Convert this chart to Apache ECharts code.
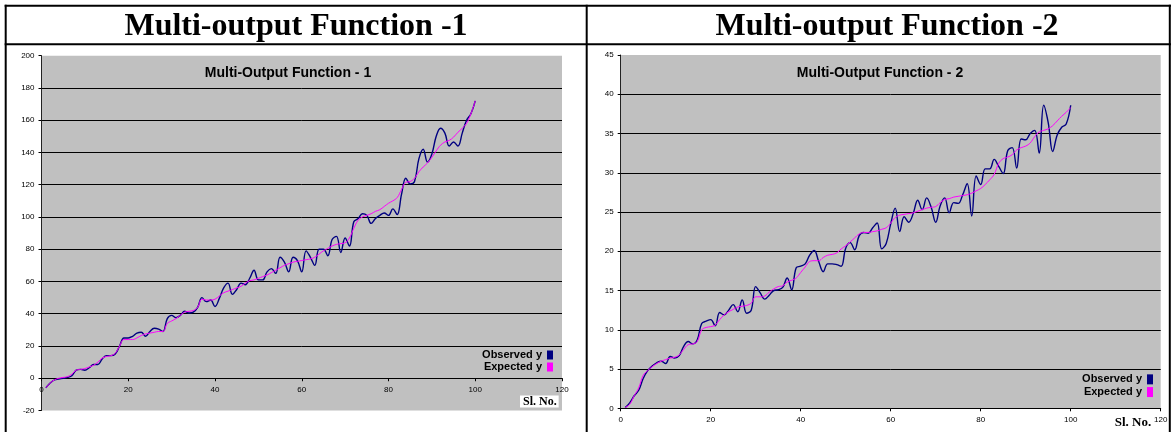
<!DOCTYPE html>
<html>
<head>
<meta charset="utf-8">
<script src="https://cdn.jsdelivr.net/npm/echarts@6/dist/echarts.min.js"></script>
<style>
  html, body { margin: 0; padding: 0; background: #ffffff; }
  #chart { width: 1172px; height: 432px; }
</style>
</head>
<body>
<div id="chart"></div>
<script>
// ---------- data ----------
const headings = ['Multi-output Function -1', 'Multi-output Function -2'];
const innerTitles = ['Multi-Output Function - 1', 'Multi-Output Function - 2'];
const seriesNames = ['Observed y', 'Expected y'];
const xAxisName = 'Sl. No.';

// Sl. No. 1..100
const slNo = [];
for (let i = 1; i <= 100; i++) slNo.push(i);

const observed1 = [
  -6, -3, -1, -0.5, 0, 0.5, 1.5, 5, 5.5, 5,
  6.5, 8.5, 8.5, 12, 14, 14, 15, 20, 25, 25,
  26, 28, 28.5, 26, 29, 31, 30.5, 29, 37, 39,
  37.5, 39, 41.5, 40.5, 41, 44, 50, 47.5, 48.5, 44.5,
  49.5, 56, 59, 52, 55, 59, 58, 62, 67, 61,
  61, 66, 68, 65, 75, 72, 66, 75, 73, 66,
  79, 75, 70, 80, 80, 76, 86, 88, 78, 87,
  82, 97, 99, 102, 101, 96, 99, 101, 102.5, 101,
  105, 101.5, 114, 124, 120.5, 122, 136, 142, 134, 139,
  150, 155, 152, 144, 146.5, 144, 152, 160, 164, 172
];
const expected1 = [
  -6, -3, -1, 0, 0.5, 1, 2.5, 5, 5.5, 6,
  7, 8, 10, 12.5, 13.5, 14, 15.5, 20, 24, 24,
  24, 25, 26.5, 27.5, 28, 28.5, 29, 29, 34, 35.5,
  37, 39, 41, 41.5, 42, 44, 49, 48.5, 48.5, 49,
  51, 53, 54, 55, 56, 57, 59, 60.5, 61, 62,
  63, 64, 65.5, 67, 68.5, 70, 71, 72, 72.5, 73,
  73.5, 74, 75, 77, 79, 80.5, 82, 83, 83.5, 84,
  87, 93, 98, 100, 101, 102, 103.5, 104.5, 106.5, 108.5,
  110, 112, 117, 121.5, 122, 124, 128, 131, 133.5, 137,
  141, 144.5, 146.5, 147.5, 149.5, 152.5, 155, 158, 164, 172
];
const observed2 = [
  0.1, 0.7, 1.6, 2.3, 3.8, 4.8, 5.4, 5.8, 6.0, 5.7,
  6.6, 6.4, 6.7, 7.9, 8.5, 8.2, 8.7, 10.8, 11.1, 11.3,
  10.5, 12.2, 11.9, 12.5, 13.2, 12.3, 13.8, 12.1, 12.5, 15.5,
  14.7, 13.9, 14.4, 15.0, 15.1, 15.4, 16.6, 15.1, 17.9, 18.1,
  18.4, 19.5, 20.1, 18.7, 17.4, 18.4, 18.4, 18.3, 18.1, 20.4,
  21.1, 20.2, 22.0, 22.4, 22.3, 23.0, 23.6, 20.3, 21.0, 23.5,
  25.5, 22.5, 24.4, 23.7, 24.8, 26.5, 25.3, 26.8, 25.6, 23.7,
  25.8, 26.8, 24.9, 26.2, 26.1, 27.2, 28.6, 24.5, 29.6, 28.5,
  30.5, 30.5, 31.7, 30.8, 29.9, 32.8, 33.2, 30.6, 34.3, 34.2,
  35.0, 35.4, 32.5, 38.6, 36.4, 32.7, 34.8, 35.8, 36.2, 38.6
];
const expected2 = [
  0.1, 0.5, 1.6, 2.6, 4.2, 4.8, 5.3, 5.7, 6.0, 6.2,
  6.4, 6.5, 6.8, 7.5, 8.1, 8.2, 8.5, 10.0, 10.3, 10.4,
  10.6, 11.3, 11.9, 12.3, 12.6, 12.9, 13.0, 13.1, 13.4, 14.2,
  14.2, 14.3, 14.8, 15.2, 15.5, 15.6, 16.1, 16.3, 16.6, 17.3,
  18.0, 18.7, 18.8, 18.8, 19.2, 19.5, 19.6, 19.8, 20.3, 20.7,
  21.2, 21.7, 22.2, 22.4, 22.4, 22.5, 22.6, 22.8, 23.0, 23.6,
  24.3, 24.6, 24.7, 24.8, 24.9, 25.1, 25.3, 25.5, 25.6, 25.7,
  26.2, 26.6, 26.7, 26.9, 27.0, 27.1, 27.2, 27.4, 27.7, 28.0,
  28.5, 29.1, 29.8, 31.2, 31.8, 32.0, 32.3, 32.9, 33.2, 33.4,
  33.8, 34.6, 35.2, 35.4, 35.6, 36.0, 36.6, 37.2, 37.7, 38.3
];

// ---------- chart ----------
const pair = (vals) => slNo.map((x, i) => [x, vals[i]]);

const OBS_COLOR = '#000080';
const EXP_COLOR = '#ff00ff';
const PLOT_BG = '#c0c0c0';
const SANS = '"Liberation Sans", Arial, sans-serif';
const SERIF = '"Liberation Serif", "Times New Roman", serif';

const GRID1 = { left: 41.5, top: 55.7, width: 520.5, height: 354.8 };
const GRID2 = { left: 620.7, top: 55, width: 540, height: 353.3 };
const Y1 = { min: -20, max: 200, interval: 20 };
const Y2 = { min: 0, max: 45, interval: 5 };
// shift of the left x axis up to the y = 0 line (pixels, derived from the y scale)
const zeroShift1 = -GRID1.height * (0 - Y1.min) / (Y1.max - Y1.min);

function xAxisCfg(gridIndex, offset, margin) {
  return {
    type: 'value', gridIndex: gridIndex, min: 0, max: 120, interval: 20,
    position: 'bottom', offset: offset,
    axisLine: { show: true, onZero: false, lineStyle: { color: '#000', width: 1 } },
    axisTick: { show: true, inside: false, length: 3, lineStyle: { color: '#000' } },
    axisLabel: { show: true, margin: margin, fontSize: 8, color: '#000', fontFamily: SANS,
                 showMinLabel: true, showMaxLabel: true, hideOverlap: false },
    splitLine: { show: false }
  };
}
function yAxisCfg(gridIndex, y) {
  return {
    type: 'value', gridIndex: gridIndex, min: y.min, max: y.max, interval: y.interval,
    axisLine: { show: true, onZero: false, lineStyle: { color: '#222', width: 1 } },
    axisTick: { show: true, inside: false, length: 3, lineStyle: { color: '#000' } },
    axisLabel: { show: true, margin: 7, fontSize: 8, color: '#000', fontFamily: SANS,
                 showMinLabel: true, showMaxLabel: true, hideOverlap: false },
    splitLine: { show: true, showMinLine: false, showMaxLine: false,
                 lineStyle: { color: '#000', width: 1 } }
  };
}
function lineSeries(name, gi, vals, color, width) {
  return {
    name: name, type: 'line', xAxisIndex: gi, yAxisIndex: gi,
    data: pair(vals), smooth: 0.4, symbol: 'none', showSymbol: false,
    lineStyle: { color: color, width: width }, itemStyle: { color: color },
    emphasis: { disabled: true }, silent: true, animation: false
  };
}
function legendCfg(right, top, itemH, lh) {
  return {
    show: true, orient: 'vertical', right: right, top: top, align: 'right',
    icon: 'rect', itemWidth: 6, itemHeight: itemH, itemGap: 0, padding: 0,
    selectedMode: false, data: seriesNames,
    textStyle: { fontFamily: SANS, fontWeight: 'bold', fontSize: 11, color: '#000', lineHeight: lh }
  };
}

const chart = echarts.init(document.getElementById('chart'), null, { renderer: 'canvas' });
chart.setOption({
  animation: false,
  backgroundColor: '#ffffff',
  title: [
    { text: headings[0], left: 296, top: 11, textAlign: 'center', padding: 0,
      textStyle: { fontFamily: SERIF, fontWeight: 'bold', fontSize: 32, color: '#000' } },
    { text: headings[1], left: 887, top: 11, textAlign: 'center', padding: 0,
      textStyle: { fontFamily: SERIF, fontWeight: 'bold', fontSize: 32, color: '#000' } },
    { text: innerTitles[0], left: 288, top: 66, textAlign: 'center', padding: 0,
      textStyle: { fontFamily: SANS, fontWeight: 'bold', fontSize: 14, color: '#000' } },
    { text: innerTitles[1], left: 880, top: 66, textAlign: 'center', padding: 0,
      textStyle: { fontFamily: SANS, fontWeight: 'bold', fontSize: 14, color: '#000' } },
    { text: xAxisName, left: 520, top: 396, padding: [0, 2, 0, 3], backgroundColor: '#ffffff',
      textStyle: { fontFamily: SERIF, fontWeight: 'bold', fontSize: 12, color: '#000', lineHeight: 11 } },
    { text: xAxisName, left: 1133, top: 416, textAlign: 'center', padding: 0,
      textStyle: { fontFamily: SERIF, fontWeight: 'bold', fontSize: 13, color: '#000' } }
  ],
  legend: [
    legendCfg(619, 349, 9, 12),
    legendCfg(19, 373, 10, 12.7)
  ],
  grid: [
    Object.assign({ show: true, backgroundColor: PLOT_BG, borderWidth: 0, containLabel: false }, GRID1),
    Object.assign({ show: true, backgroundColor: PLOT_BG, borderWidth: 0, containLabel: false }, GRID2)
  ],
  xAxis: [xAxisCfg(0, zeroShift1, 8), xAxisCfg(1, 0, 7)],
  yAxis: [yAxisCfg(0, Y1), yAxisCfg(1, Y2)],
  series: [
    lineSeries(seriesNames[0], 0, observed1, OBS_COLOR, 1.4),
    lineSeries(seriesNames[1], 0, expected1, EXP_COLOR, 1),
    lineSeries(seriesNames[0], 1, observed2, OBS_COLOR, 1.4),
    lineSeries(seriesNames[1], 1, expected2, EXP_COLOR, 1)
  ],
  graphic: [
    { type: 'line', silent: true, z: 100, shape: { x1: 4.7, y1: 5.7, x2: 1171, y2: 5.7 }, style: { stroke: '#000', lineWidth: 2 } },
    { type: 'line', silent: true, z: 100, shape: { x1: 4.7, y1: 44.3, x2: 1171, y2: 44.3 }, style: { stroke: '#000', lineWidth: 2 } },
    { type: 'line', silent: true, z: 100, shape: { x1: 5.7, y1: 4.7, x2: 5.7, y2: 432 }, style: { stroke: '#000', lineWidth: 2 } },
    { type: 'line', silent: true, z: 100, shape: { x1: 586.7, y1: 4.7, x2: 586.7, y2: 432 }, style: { stroke: '#000', lineWidth: 2 } },
    { type: 'line', silent: true, z: 100, shape: { x1: 1169.8, y1: 4.7, x2: 1169.8, y2: 432 }, style: { stroke: '#000', lineWidth: 2 } }
  ]
});
</script>
</body>
</html>
